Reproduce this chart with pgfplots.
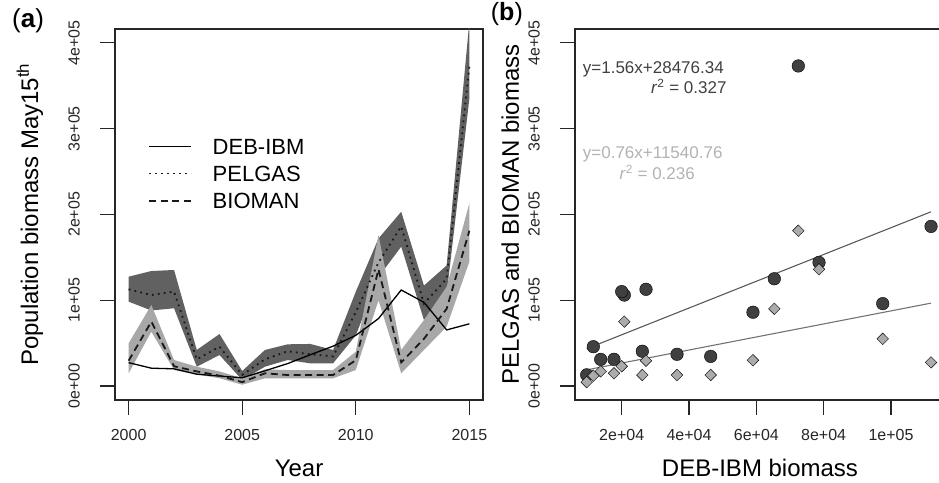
\documentclass[border=0pt]{standalone}
\usepackage{pgfplots}
\pgfplotsset{compat=1.18}
\usepackage{pgfplotstable}
\usepgfplotslibrary{fillbetween}
\usepackage{fontspec}
\setmainfont{Liberation Sans}

\pgfplotstableread{
year deb pel pello pelhi bio biolo biohi
2000 27220 112700 98300 127400 29500 14800 49800
2001 20770 106000 88000 134000 75000 63300 94400
2002 20000 110000 90600 135200 23000 18600 30300
2003 13760 31000 22500 42000 17000 13500 22500
2004 11570 45800 36100 60600 12000 9000 17000
2005 9600 13000 7000 17500 4500 1500 9000
2006 17710 31100 22500 42000 14800 9000 19400
2007 26120 40500 30300 48600 12800 9000 18600
2008 36430 37000 26400 49000 12800 9000 18600
2009 46440 34500 26400 42000 12800 9000 18600
2010 59000 86000 59000 110000 30000 18600 40000
2011 78620 144000 127000 172000 136000 100000 176000
2012 111900 186000 162400 203100 27500 14800 42000
2013 97550 96000 77000 117000 55000 42000 76900
2014 65340 125000 107000 140500 90000 69100 115700
2015 72470 373000 335000 425000 181000 144900 213000
}\data

\definecolor{pelband}{gray}{0.38}
\definecolor{bioband}{gray}{0.66}

\pgfplotsset{
 myax/.style={scale only axis, anchor=south west, height=371pt,
  ymin=-16317, ymax=416080,
  ytick={0,100000,200000,300000,400000},
  yticklabels={0e+00,1e+05,2e+05,3e+05,4e+05},
  tick align=outside, major tick length=15pt,
  xtick pos=bottom, ytick pos=left,
  axis line style={line width=1.2pt,black!85},
  tick style={line width=1.2pt,black!85},
  ticklabel style={font=\fontsize{16}{19}\selectfont, inner sep=0pt, text=black!85},
  yticklabel style={rotate=90, anchor=south},
  xticklabel style={anchor=north},
  xticklabel shift=14pt, yticklabel shift=20pt,
  scaled ticks=false,
  every axis x label/.style={at={(axis description cs:0.5,-0.2075)}, anchor=base,
     font=\fontsize{24}{28}\selectfont, inner sep=0pt},
  every axis y label/.style={rotate=90, anchor=base,
     font=\fontsize{24}{28}\selectfont, inner sep=0pt},
 }
}

\begin{document}
\begin{tikzpicture}

\begin{axis}[myax, at={(115pt,82pt)}, width=368pt,
  xmin=1999.4, xmax=2015.6,
  xtick={2000,2005,2010,2015}, xticklabels={2000,2005,2010,2015},
  xlabel={Year},
  ylabel={Population biomass May15\textsuperscript{th}},
  ylabel style={at={(axis description cs:-0.2092,0.5)}},
  legend cell align=left,
  legend image code/.code={\draw[#1] (0pt,0pt) -- (42pt,0pt);},
  legend style={at={(axis description cs:0.0897,0.7062)}, anchor=north west,
    draw=none, fill=none, inner sep=0pt,
    font=\fontsize{22}{26}\selectfont, row sep=11.3pt, column sep=20.7pt,
    nodes={inner sep=0pt, text height=16pt, text depth=0pt}},
]
\addplot[draw=none, name path=pu, forget plot] table[x=year,y=pelhi]{\data};
\addplot[draw=none, name path=pl, forget plot] table[x=year,y=pello]{\data};
\addplot[fill=pelband, draw=none, forget plot] fill between[of=pu and pl];
\addplot[draw=none, name path=bu, forget plot] table[x=year,y=biohi]{\data};
\addplot[draw=none, name path=bl, forget plot] table[x=year,y=biolo]{\data};
\addplot[fill=bioband, draw=none, forget plot] fill between[of=bu and bl];
\addplot[black, line width=1.3pt] table[x=year,y=deb]{\data};
\addlegendentry{DEB-IBM}
\addplot[black!90, line width=1.8pt, dash pattern=on 1.8pt off 4.2pt] table[x=year,y=pel]{\data};
\addlegendentry{PELGAS}
\addplot[black!90, line width=1.8pt, dash pattern=on 7pt off 4.5pt] table[x=year,y=bio]{\data};
\addlegendentry{BIOMAN}
\end{axis}

\begin{axis}[myax, at={(575pt,82pt)}, width=370pt,
  xmin=6126, xmax=116053,
  xtick={20000,40000,60000,80000,100000},
  xticklabels={2e+04,4e+04,6e+04,8e+04,1e+05},
  xlabel={DEB-IBM biomass},
  ylabel={PELGAS and BIOMAN biomass},
  ylabel style={at={(axis description cs:-0.1514,0.5)}},
]
\addplot[only marks, mark=*, mark size=6.3pt, mark options={fill=black!75, draw=none}] table[x=deb,y=pel]{\data};
\addplot[only marks, mark=diamond*, mark size=5.8pt, mark options={fill=black!33, draw=none, xscale=1.33}] table[x=deb,y=bio]{\data};
\addplot[black!65, line width=1.1pt] coordinates {(9600,43452) (111900,203040)};
\addplot[black!55, line width=1.1pt] coordinates {(9600,18837) (111900,96585)};
\end{axis}

\begin{scope}[every node/.style={inner sep=0pt, font=\fontsize{17}{20}\selectfont}]
\node[anchor=base west, text=black!75] at (582.7pt,408.7pt) {y=1.56x+28476.34};
\node[anchor=base east, text=black!75] at (726.7pt,388pt) {\textit{r}\textsuperscript{2} = 0.327};
\node[anchor=base west, text=black!30] at (582.7pt,323.7pt) {y=0.76x+11540.76};
\node[anchor=base east, text=black!30] at (695pt,302.7pt) {\textit{r}\textsuperscript{2} = 0.236};
\end{scope}
\node[anchor=base west, inner sep=0pt, font=\fontsize{26}{30}\selectfont] at (12pt,454pt) {(\textbf{a})};
\node[anchor=base west, inner sep=0pt, font=\fontsize{25}{30}\selectfont] at (490.7pt,461pt) {(\textbf{b})};
\pgfresetboundingbox
\path[use as bounding box] (0pt,0pt) rectangle (939pt,482pt);
\end{tikzpicture}
\end{document}
